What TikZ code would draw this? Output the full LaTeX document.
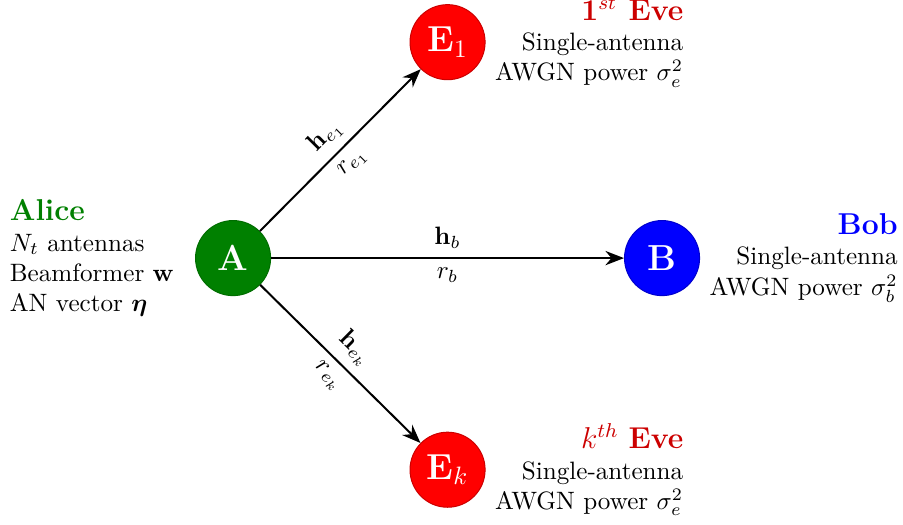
\documentclass[tikz,border=0pt]{standalone}
\usepackage{amsmath, amssymb}
\usepackage{xcolor}
\usepackage{tikz}
\usetikzlibrary{arrows.meta, positioning}

\definecolor{alicegreen}{RGB}{0,128,0}
\definecolor{evered}{RGB}{204,0,0}

\begin{document}
\begin{tikzpicture}[
  node distance=1mm,
  user/.style={circle, minimum size=1.05cm, inner sep=0pt, text=white, font=\Large\bfseries},
  info/.style={font=\normalsize},
  link/.style={-{Stealth[length=2.6mm, width=2mm]}, thick}
]
  \useasboundingbox (-3.26,-3.73) rectangle (9.37,3.61);

  \node[user, fill=alicegreen, draw=alicegreen!85!black] (A) at (0,0) {A};
  \node[user, fill=blue, draw=blue!80!black] (B) at (6,0) {B};
  \node[user, fill=red, draw=red!80!black] (E1) at (3,3.02) {E$_1$};
  \node[user, fill=red, draw=red!80!black] (Ek) at (3,-2.96) {E$_k$};

  % who is who
  \node[info, align=left, left=1.7mm of A] (alice) {{\large\bfseries\color{alicegreen}Alice}\\$N_t$ antennas\\Beamformer $\mathbf{w}$\\AN vector $\boldsymbol{\eta}$};
  \node[info, align=right, right=0.1mm of B] (bob) {{\large\bfseries\color{blue}Bob}\\Single-antenna\\AWGN power $\sigma_b^2$};
  \node[info, align=right, right=0.1mm of E1] (eve1) {{\large\bfseries\color{evered}$\mathbf{1}^{st}$ Eve}\\Single-antenna\\AWGN power $\sigma_e^2$};
  \node[info, align=right, right=0.1mm of Ek] (evek) {{\large\color{evered}$k^{th}$ \textbf{Eve}}\\Single-antenna\\AWGN power $\sigma_e^2$};

  \draw[link] (A) -- node[above] (hb) {$\mathbf{h}_b$} node[below] (rb) {$r_b$} (B);
  \draw[link] (A) -- node[above, sloped] (he1) {$\mathbf{h}_{e_1}$} node[below, sloped] (re1) {$r_{e_1}$} (E1);
  \draw[link] (A) -- node[above, sloped] (hek) {$\mathbf{h}_{e_k}$} node[below, sloped] (rek) {$r_{e_k}$} (Ek);
\end{tikzpicture}
\end{document}
